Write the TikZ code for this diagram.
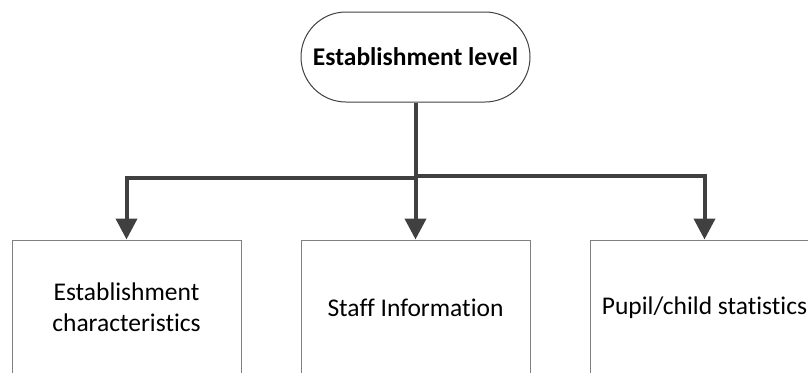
\documentclass[tikz,border=0pt]{standalone}
\usepackage{fontspec}
\setmainfont{Carlito}[Ligatures={NoCommon}]
\definecolor{flowA}{RGB}{64, 64, 64}
\definecolor{frameA}{RGB}{128, 128, 128}
\usetikzlibrary{arrows.meta, positioning}

\begin{document}
\begin{tikzpicture}[x=1pt, y=-1pt,
	levelbox/.style={draw=flowA, line width=1pt, rounded corners=45pt, minimum width=229pt, minimum height=90pt, font=\fontsize{25.5}{31}\selectfont\bfseries},
	infobox/.style={draw=frameA, line width=1pt, minimum width=229pt, minimum height=135pt, align=center, font=\fontsize{25.5}{31}\selectfont},
	flow/.style={draw=flowA, line width=4pt, -{Triangle[width=21pt, length=21pt]}}]

\useasboundingbox (0,0) rectangle (808,372);
\clip (0,0) rectangle (808,372);

\node[levelbox] (est) at (415.5, 57) {Establishment level};

\node[infobox] (chr) at (126.5, 307.5) {Establishment\\characteristics};
\node[infobox] (stf) at (415.5, 307.5) {Staff Information};
\node[infobox] (pup) at (704.5, 307.5) {Pupil/child statistics};

%\node at (415.5, 177) {split};
\coordinate (splitL) at (415.5, 178);
\coordinate (splitR) at (415.5, 176);

\draw[flow] (est) -- (stf);
\draw[flow] (splitL) -| (chr);
\draw[flow] (splitR) -| (pup);

\end{tikzpicture}
\end{document}
